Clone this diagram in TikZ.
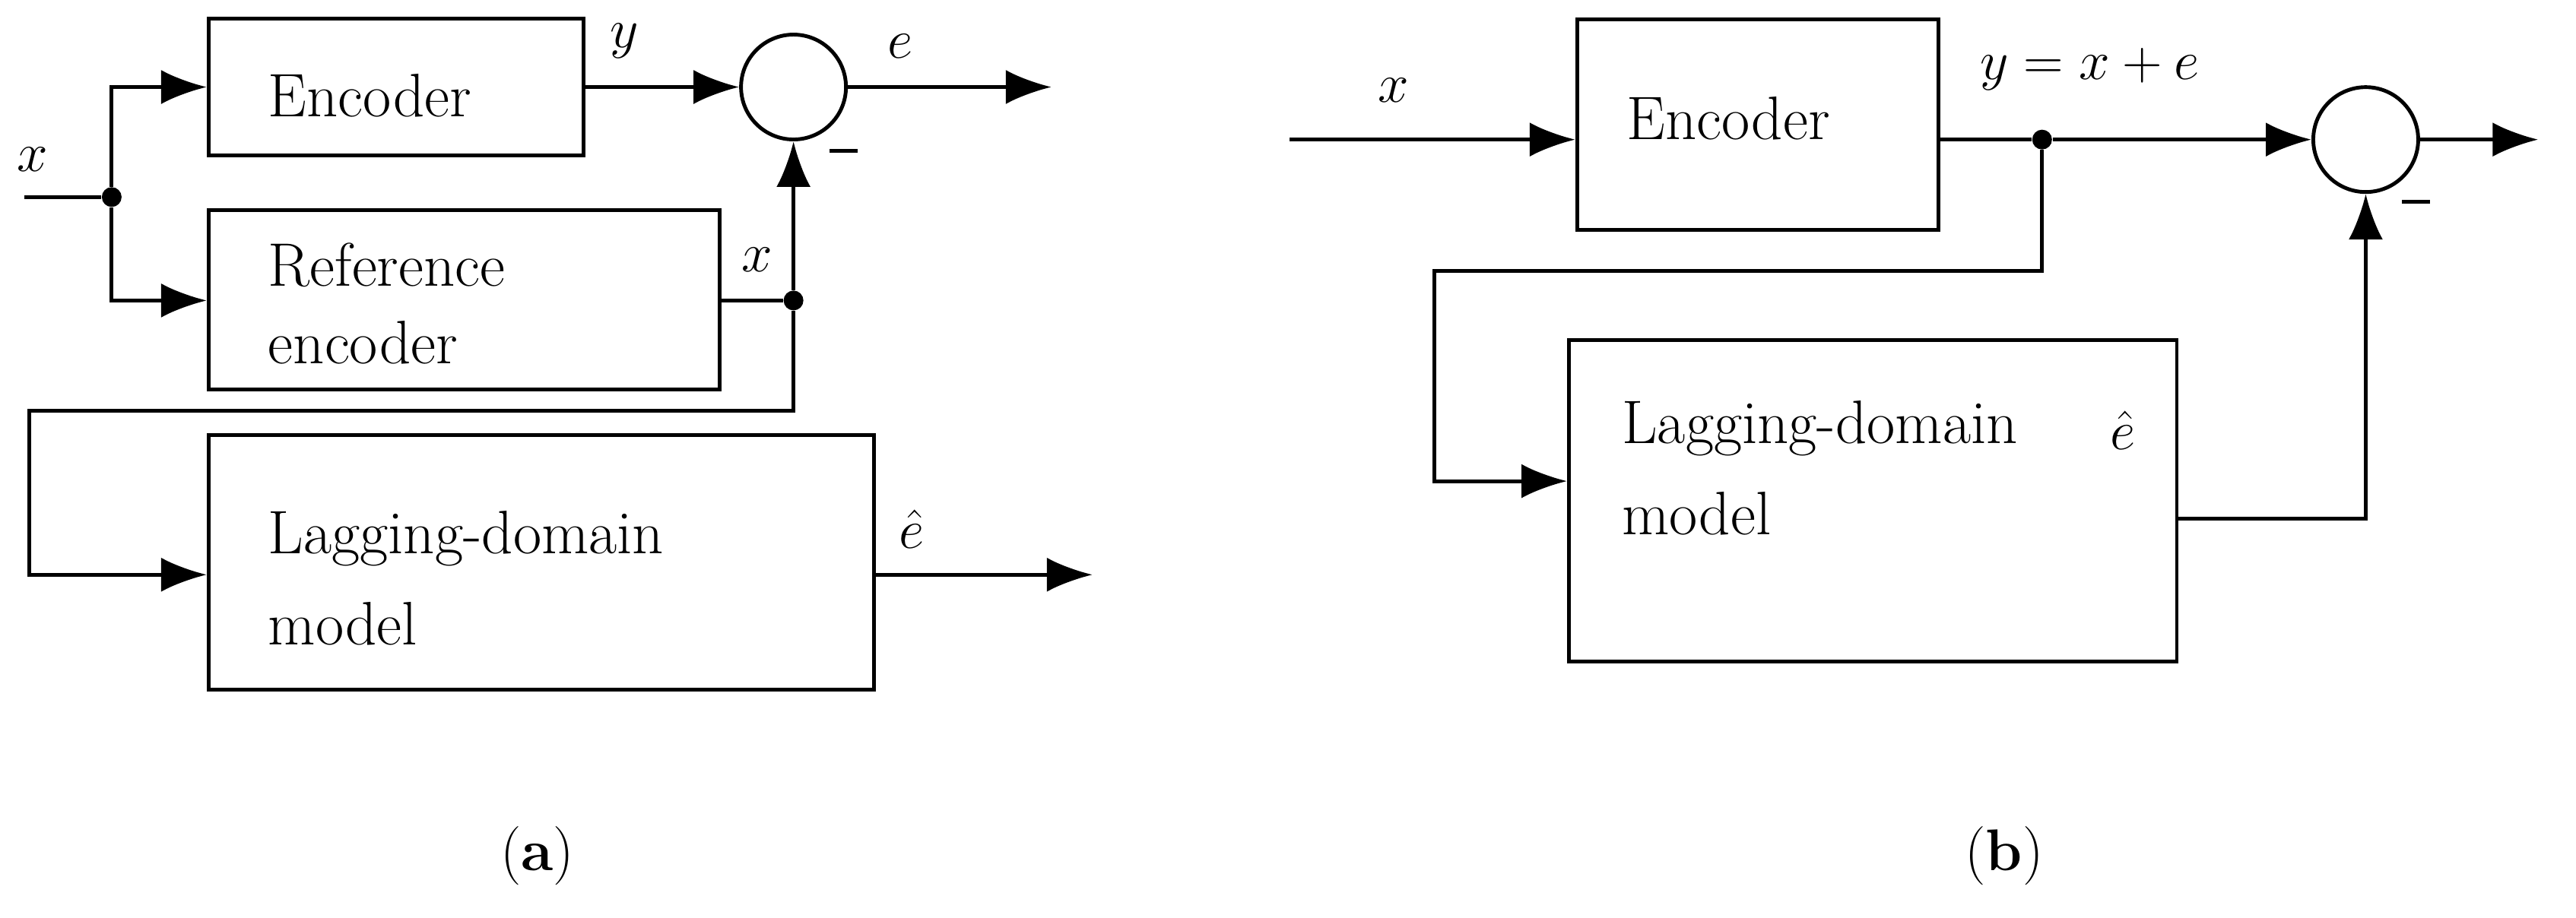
\documentclass[tikz,border=0pt]{standalone}
\usepackage{amsmath}
\usetikzlibrary{arrows.meta,positioning}
\begin{document}
\begin{tikzpicture}[x=0.0216cm,y=-0.0216cm,
	block/.style={draw, line width=1.4pt, inner sep=0pt},
	txt/.style={anchor=west, align=left, inner sep=0pt,
		font=\fontsize{23}{29}\selectfont},
	sum/.style={draw, circle, line width=1.4pt, minimum size=1.38cm, inner sep=0pt},
	dot/.style={circle, fill, inner sep=0pt, minimum size=0.26cm},
	lab/.style={font=\fontsize{22}{26}\selectfont},
	sig/.style={line width=1.4pt, -{Latex[length=0.6cm,width=0.45cm]}},
	wire/.style={line width=1.4pt}]
	\useasboundingbox (0,0) rectangle (1568,559);
	% (a)
	\node[block, minimum width=228*0.0216cm, minimum height=83*0.0216cm] (enc) at (241,53) {};
	\node[block, minimum width=311*0.0216cm, minimum height=109*0.0216cm] (ref) at (282.5,182.5) {};
	\node[block, minimum width=405*0.0216cm, minimum height=155*0.0216cm] (lag) at (329.5,342.5) {};
	\node[txt] (enct) at (163,58) {Encoder};
	\node[txt] (reft) at (163,185) {Reference\\encoder};
	\node[txt, font=\fontsize{23}{34}\selectfont] (lagt) at (163,352) {Lagging-domain\\model};
	\node[sum] (sa) at (483,53) {};
	\coordinate (xin) at (15,120);
	\node[dot] (ja) at (68,120) {};
	\node[dot] (jb) at (483,183) {};
	\coordinate (ea) at (640,53);
	\coordinate (ha) at (665,350);
	\draw[wire] (xin) -- (ja);
	\draw[sig] (ja) |- (enc.west |- 0,53);
	\draw[sig] (ja) |- (ref.west |- 0,183);
	\draw[sig] (enc.east |- 0,53) -- (sa);
	\draw[sig] (sa) -- (ea);
	\draw[wire] (ref.east |- 0,183) -- (jb);
	\draw[sig] (jb) -- (sa);
	\draw[sig] (jb) -- (483,250) -- (18,250) -- (18,350) -- (lag.west |- 0,350);
	\draw[sig] (lag.east |- 0,350) -- (ha);
	\node[lab] at (20,97) {$x$};
	\node[lab] at (380,25) {$y$};
	\node[lab] at (548,28) {$e$};
	\node[lab] at (461,158) {$x$};
	\node[lab] at (555,322) {$\hat{e}$};
	\draw[wire] (505,92) -- (522,92);
	% (b)
	\node[block, minimum width=220*0.0216cm, minimum height=128*0.0216cm] (encb) at (1070,76) {};
	\node[block, minimum width=370*0.0216cm, minimum height=196*0.0216cm] (lagb) at (1140,305) {};
	\node[txt] (encbt) at (990,72) {Encoder};
	\node[txt, font=\fontsize{23}{34}\selectfont] (lagbt) at (987,285) {Lagging-domain\\model};
	\node[sum] (sb) at (1440,85) {};
	\coordinate (xbin) at (785,85);
	\node[dot] (jc) at (1243,85) {};
	\coordinate (eb) at (1545,85);
	\draw[sig] (xbin) -- (encb.west |- 0,85);
	\draw[wire] (encb.east |- 0,85) -- (jc);
	\draw[sig] (jc) -- (sb);
	\draw[sig] (sb) -- (eb);
	\draw[sig] (jc) -- (1243,165) -- (873,165) -- (873,293) -- (lagb.west |- 0,293);
	\draw[sig] (lagb.east |- 0,316) -| (sb);
	\node[lab] at (848,55) {$x$};
	\node[lab] at (1272,42) {$y = x + e$};
	\node[lab] at (1292,262) {$\hat{e}$};
	\draw[wire] (1462,123) -- (1479,123);
	% captions
	\node[lab] at (327,521) {(\textbf{a})};
	\node[lab] at (1220,521) {(\textbf{b})};
\end{tikzpicture}
\end{document}
